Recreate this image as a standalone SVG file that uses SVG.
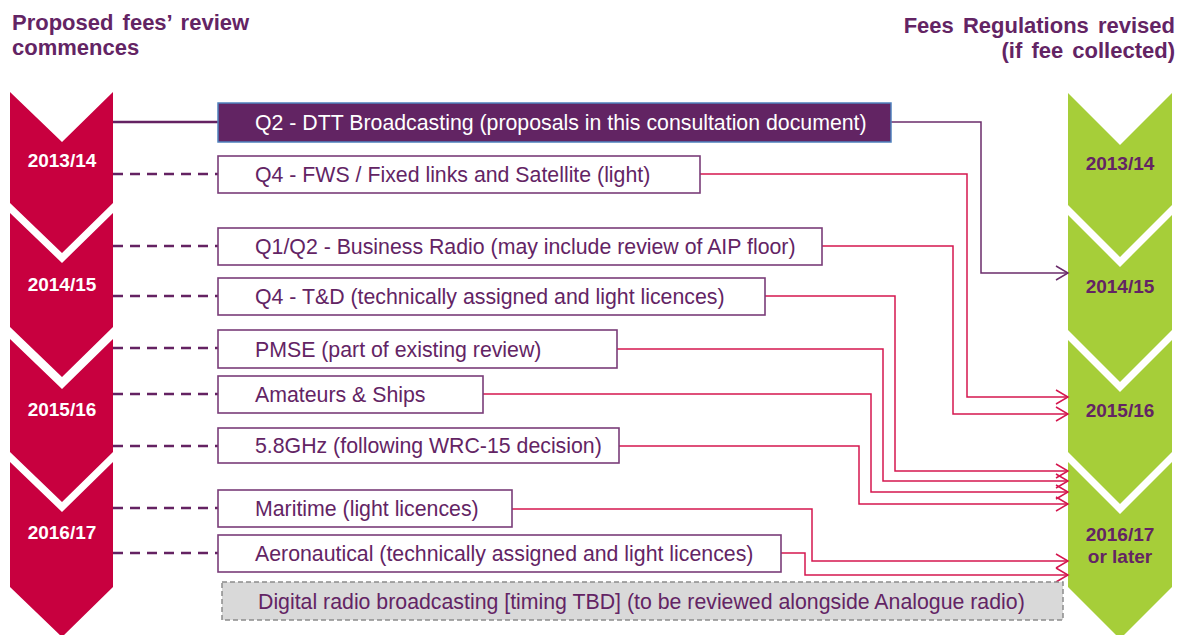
<svg xmlns="http://www.w3.org/2000/svg" width="1179" height="635" viewBox="0 0 1179 635">
  <defs>
    <marker id="arrRed" markerUnits="userSpaceOnUse" markerWidth="16" markerHeight="18" refX="12" refY="7" orient="auto" overflow="visible">
      <path d="M0,0 L12,7 L0,14" fill="none" stroke="#D5174F" stroke-width="1.5"/>
    </marker>
    <marker id="arrPurple" markerUnits="userSpaceOnUse" markerWidth="16" markerHeight="18" refX="12" refY="7" orient="auto" overflow="visible">
      <path d="M0,0 L12,7 L0,14" fill="none" stroke="#6B2C6B" stroke-width="1.5"/>
    </marker>
  </defs>
  <style>
    .title { font-family: "Liberation Sans", Arial, sans-serif; font-weight: bold; font-size: 22px; fill: #632464; word-spacing: 3px; }
    .chevL { fill: #C8003F; }
    .chevR { fill: #A6CE39; }
    .yearL { font-family: "Liberation Sans", Arial, sans-serif; font-weight: bold; font-size: 19px; fill: #FFFFFF; text-anchor: middle; }
    .yearR { font-family: "Liberation Sans", Arial, sans-serif; font-weight: bold; font-size: 19px; fill: #632464; text-anchor: middle; }
    .box { fill: #FFFFFF; stroke: #7A3D79; stroke-width: 1.6; }
    .boxMain { fill: #622463; stroke: #4F81BD; stroke-width: 1.5; }
    .boxTbd { fill: #D9D9D9; stroke: #8C8C8C; stroke-width: 1.5; stroke-dasharray: 5 3; }
    .lbl { font-family: "Liberation Sans", Arial, sans-serif; font-size: 21.3px; fill: #632464; }
    .lblMain { font-family: "Liberation Sans", Arial, sans-serif; font-size: 21.3px; fill: #FFFFFF; }
    .dash { fill: none; stroke: #642262; stroke-width: 2.5; stroke-dasharray: 10 7; }
    .solid { fill: none; stroke: #642262; stroke-width: 2.5; }
    .linkRed { fill: none; stroke: #D5174F; stroke-width: 1.5; marker-end: url(#arrRed); }
    .linkPurple { fill: none; stroke: #6B2C6B; stroke-width: 1.5; marker-end: url(#arrPurple); }
  </style>

  <!-- Column headings -->
  <g id="heading-left">
    <text class="title" x="12" y="30">Proposed fees’ review</text>
    <text class="title" x="12" y="55">commences</text>
  </g>
  <g id="heading-right">
    <text class="title" x="1175" y="33" text-anchor="end">Fees Regulations revised</text>
    <text class="title" x="1175" y="58" text-anchor="end">(if fee collected)</text>
  </g>

  <!-- Review start years (left column) -->
  <g id="start-2013">
    <polygon class="chevL" points="10,92 62,142 113,92 113,203 62,253 10,203"/>
    <text class="yearL" x="62" y="167">2013/14</text>
  </g>
  <g id="start-2014">
    <polygon class="chevL" points="10,213 62,263 113,213 113,327 62,377 10,327"/>
    <text class="yearL" x="62" y="291">2014/15</text>
  </g>
  <g id="start-2015">
    <polygon class="chevL" points="10,339 62,389 113,339 113,452 62,502 10,452"/>
    <text class="yearL" x="62" y="416">2015/16</text>
  </g>
  <g id="start-2016">
    <polygon class="chevL" points="10,462 62,512 113,462 113,587 62,637 10,587"/>
    <text class="yearL" x="62" y="539">2016/17</text>
  </g>

  <!-- Regulation revision years (right column) -->
  <g id="revised-2013">
    <polygon class="chevR" points="1068,93 1120,145 1172,93 1172,205 1120,257 1068,205"/>
    <text class="yearR" x="1120" y="170">2013/14</text>
  </g>
  <g id="revised-2014">
    <polygon class="chevR" points="1068,215 1120,267 1172,215 1172,330 1120,382 1068,330"/>
    <text class="yearR" x="1120" y="293">2014/15</text>
  </g>
  <g id="revised-2015">
    <polygon class="chevR" points="1068,340 1120,392 1172,340 1172,452 1120,504 1068,452"/>
    <text class="yearR" x="1120" y="417">2015/16</text>
  </g>
  <g id="revised-2016">
    <polygon class="chevR" points="1068,462 1120,514 1172,462 1172,587 1120,639 1068,587"/>
    <text class="yearR" x="1120" y="541">2016/17</text>
    <text class="yearR" x="1120" y="563">or later</text>
  </g>

  <!-- Connectors -->
  <g id="connectors">
    <!-- from start year to review -->
    <line class="solid" x1="113" y1="122" x2="218" y2="122"/>
    <line class="dash" x1="113" y1="174" x2="218" y2="174"/>
    <line class="dash" x1="113" y1="246" x2="218" y2="246"/>
    <line class="dash" x1="113" y1="296" x2="218" y2="296"/>
    <line class="dash" x1="113" y1="348" x2="218" y2="348"/>
    <line class="dash" x1="113" y1="394" x2="218" y2="394"/>
    <line class="dash" x1="113" y1="446" x2="218" y2="446"/>
    <line class="dash" x1="113" y1="508" x2="218" y2="508"/>
    <line class="dash" x1="113" y1="553" x2="218" y2="553"/>
    <!-- from review to regulation year -->
    <polyline class="linkPurple" points="891,122 981,122 981,273 1068,273"/>
    <polyline class="linkRed" points="700,174 967,174 967,397 1068,397"/>
    <polyline class="linkRed" points="822,246 953,246 953,414 1068,414"/>
    <polyline class="linkRed" points="765,296 895,296 895,471 1068,471"/>
    <polyline class="linkRed" points="617,349 883,349 883,481 1068,481"/>
    <polyline class="linkRed" points="483,394 871,394 871,492 1068,492"/>
    <polyline class="linkRed" points="619,446 859,446 859,504 1068,504"/>
    <polyline class="linkRed" points="512,509 812,509 812,561 1068,561"/>
    <polyline class="linkRed" points="781,553 805,553 805,575 1068,575"/>
  </g>

  <!-- Reviews -->
  <g id="review-dtt">
    <rect class="boxMain" x="218" y="103" width="673" height="39"/>
    <text class="lblMain" x="255" y="130">Q2 - DTT Broadcasting (proposals in this consultation document)</text>
  </g>
  <g id="review-fws">
    <rect class="box" x="218" y="156" width="482" height="37"/>
    <text class="lbl" x="255" y="182">Q4 - FWS / Fixed links and Satellite (light)</text>
  </g>
  <g id="review-business-radio">
    <rect class="box" x="218" y="228" width="604" height="37"/>
    <text class="lbl" x="255" y="254">Q1/Q2 - Business Radio (may include review of AIP floor)</text>
  </g>
  <g id="review-td">
    <rect class="box" x="218" y="278" width="547" height="37"/>
    <text class="lbl" x="255" y="304">Q4 - T&amp;D (technically assigned and light licences)</text>
  </g>
  <g id="review-pmse">
    <rect class="box" x="218" y="330" width="399" height="38"/>
    <text class="lbl" x="255" y="357">PMSE (part of existing review)</text>
  </g>
  <g id="review-amateurs-ships">
    <rect class="box" x="218" y="376" width="265" height="37"/>
    <text class="lbl" x="255" y="402">Amateurs &amp; Ships</text>
  </g>
  <g id="review-58ghz">
    <rect class="box" x="218" y="428" width="401" height="35"/>
    <text class="lbl" x="255" y="453">5.8GHz (following WRC-15 decision)</text>
  </g>
  <g id="review-maritime">
    <rect class="box" x="218" y="490" width="294" height="37"/>
    <text class="lbl" x="255" y="516">Maritime (light licences)</text>
  </g>
  <g id="review-aeronautical">
    <rect class="box" x="218" y="535" width="563" height="37"/>
    <text class="lbl" x="255" y="561">Aeronautical (technically assigned and light licences)</text>
  </g>
  <g id="review-digital-radio">
    <rect class="boxTbd" x="222" y="582" width="841" height="38"/>
    <text class="lbl" x="258" y="609">Digital radio broadcasting [timing TBD] (to be reviewed alongside Analogue radio)</text>
  </g>
</svg>
